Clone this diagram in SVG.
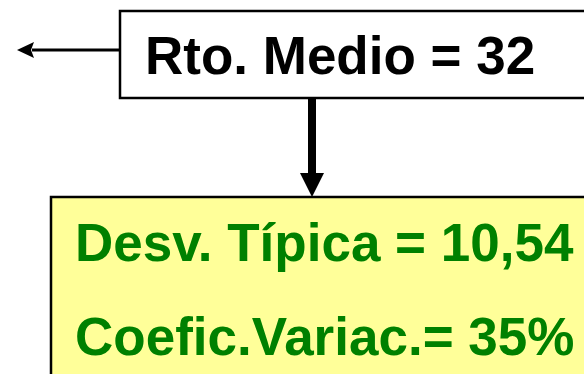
<svg xmlns="http://www.w3.org/2000/svg" width="584" height="374" viewBox="0 0 584 374">
<style>
.t{font-family:"Liberation Sans",Arial,sans-serif;font-weight:bold;font-size:53px}
.box{stroke:#000;stroke-width:2.5}
.arrowhead{fill:#000}
</style>
<rect width="584" height="374" fill="#fff"/>
<g id="connectors">
<line x1="120" y1="50" x2="32" y2="50" stroke="#000" stroke-width="3"/>
<path class="arrowhead" d="M17,50 L34,42 L31,50 L34,58 Z"/>
<rect x="308" y="97" width="8" height="77" fill="#000"/>
<path class="arrowhead" d="M300,173 L324,173 L312,197 Z"/>
</g>
<g id="node-rto">
<rect class="box" x="120" y="11" width="480" height="87" fill="#fff"/>
<text class="t" x="145" y="74" fill="#000">Rto. Medio = 32</text>
</g>
<g id="node-desv">
<rect class="box" x="51" y="197" width="560" height="200" fill="#FFFF99"/>
<text class="t" x="75" y="261" fill="#008000">Desv. Típica = 10,54</text>
<text class="t" x="75" y="355" fill="#008000">Coefic.Variac.= 35%</text>
</g>
</svg>
